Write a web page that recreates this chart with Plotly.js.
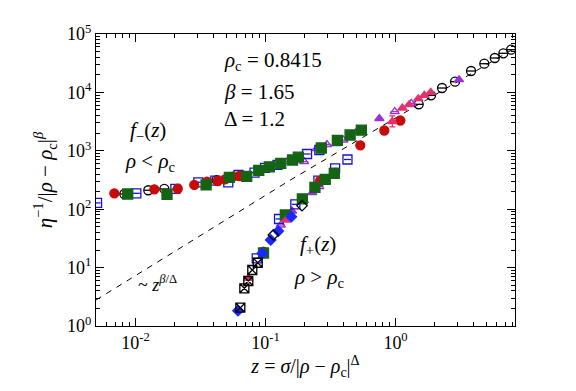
<!DOCTYPE html>
<html>
<head>
<meta charset="utf-8">
<script src="https://cdn.plot.ly/plotly-3.0.1.min.js"></script>
<style>html,body{margin:0;padding:0;background:#fff;}#plot{width:576px;height:391px;}
#plot svg text{font-family:'Liberation Serif','Times New Roman',serif !important;}</style>
</head>
<body>
<div id="plot"></div>
<script>
// ---- data (z, eta^-1/|rho-rho_c|^beta) ----
const redZ   = [0.00687, 0.01396, 0.02113, 0.0283, 0.0355, 0.0429, 0.0488, 0.0560, 0.0629, 0.263, 0.0962, 0.536, 0.820, 1.089];
const redY   = [187, 219, 224, 260, 296, 304, 325, 360, 370, 308, 18.7, 1242, 2227, 3300];

const greenZ = [0.00871, 0.01747, 0.0349, 0.0527, 0.0717, 0.0887, 0.107, 0.131, 0.1614, 0.1788, 0.2687, 0.357, 0.447, 0.546, 0.338, 0.288, 0.240, 0.192, 0.142, 0.0965];
const greenY = [182, 180, 260, 352, 366, 464, 532, 611, 696, 777, 1117, 1513, 1865, 2253, 412, 325, 237, 150, 79.6, 17.8];

const blueSqZ = [0.00506, 0.01014, 0.02024, 0.0304, 0.0411, 0.0517, 0.0620, 0.0823, 0.0991, 0.1237, 0.2086, 0.2594, 0.427, 0.343, 0.255, 0.1695, 0.127, 0.0856];
const blueSqY = [128, 187, 222, 289, 308, 289, 385, 422, 512, 576, 881, 1032, 710, 501, 308, 121, 68, 14.4];

const blackCircZ = [0.00820, 0.01254, 0.01666, 0.042, 1.508, 1.875, 2.279, 2.869, 3.81, 4.82, 5.80, 6.75, 7.74];
const blackCircY = [182, 211, 222, 315, 6250, 8920, 11890, 15250, 23250, 31000, 38800, 46700, 53800];

const purpleOpenZ = [0.147, 0.198, 0.248, 0.297, 0.351, 0.397, 0.452, 0.499, 0.986, 1.323, 0.259, 0.197, 0.131];
const purpleOpenY = [656, 651, 1086, 1282, 1323, 1531, 1743, 2099, 4674, 6505, 243, 140, 53.6];

const purpleFillZ = [0.751, 3.08, 0.229, 0.160];
const purpleFillY = [3573, 16500, 192, 93];

const pinkZ = [0.945, 1.128, 1.27, 1.497, 1.665, 1.865, 0.144, 0.0738];
const pinkY = [3175, 5407, 6155, 7800, 8920, 10040, 65.3, 6.55];
const pinkErrPlus  = [800, 0, 0, 0, 0, 0, 0, 0];
const pinkErrMinus = [600, 0, 0, 0, 0, 0, 0, 0];

const blueDiaZ = [0.158, 0.1254, 0.1096, 0.0945, 0.0614];
const blueDiaY = [74.4, 42.3, 29.7, 17.6, 1.83];

const blackDiaZ = [0.191, 0.1148];
const blackDiaY = [115, 36.2];

const blackSqxZ = [0.0871, 0.0791, 0.0737, 0.0687, 0.0640];
const blackSqxY = [12.1, 9.1, 5.9, 4.42, 2.06];

// dashed guide ~ z^(beta/Delta)
const dashZ = [0.00497, 0.152, 1.51, 8.3];
const dashY = [2.79, 307, 6250, 57500];

// tick labels
const xTickVals = [0.01, 0.1, 1];
const xTickText = ['10<sup>-2</sup>', '10<sup>-1</sup>', '10<sup>0</sup>'];
const yTickVals = [1, 10, 100, 1000, 10000, 100000];
const yTickText = ['10<sup>0</sup>', '10<sup>1</sup>', '10<sup>2</sup>', '10<sup>3</sup>', '10<sup>4</sup>', '10<sup>5</sup>'];

// ---- minor tick positions (2..9 per decade) ----
function minors(lo, hi) {
  const out = [];
  for (let p = lo; p <= hi; p++) for (let m = 2; m <= 9; m++) out.push(m * Math.pow(10, p));
  return out;
}

const RED = '#c80a0a', GREEN = '#146414', BLUE = '#1414d2', PURPLE = '#9b30d9', PINK = '#e6306e', BDIA = '#1a28ff';

function sc(x, y, symbol, color, size, extra) {
  return Object.assign({
    type: 'scatter', mode: 'markers', x: x, y: y, showlegend: false, hoverinfo: 'skip',
    marker: { symbol: symbol, color: color, size: size, line: { color: color, width: 1.3 } }
  }, extra || {});
}

const traces = [
  { type: 'scatter', mode: 'lines', x: dashZ, y: dashY, showlegend: false, hoverinfo: 'skip',
    line: { color: 'black', width: 1, dash: '6px,6px' } },
  sc(blackCircZ, blackCircY, 'circle-open', 'black', 9),
  sc(blackCircZ, blackCircY, 'line-ew-open', 'black', 6),
  sc(purpleOpenZ, purpleOpenY, 'triangle-up-open', PURPLE, 8),
  sc(purpleOpenZ, purpleOpenY, 'line-ew-open', PURPLE, 6),
  sc(purpleFillZ, purpleFillY, 'triangle-up', PURPLE, 8),
  sc(blueSqZ, blueSqY, 'square-open', BLUE, 9),
  sc(blueSqZ, blueSqY, 'line-ew-open', BLUE, 5),
  sc(redZ, redY, 'circle', RED, 9),
  sc(greenZ, greenY, 'square', GREEN, 10),
  sc(pinkZ, pinkY, 'triangle-up', PINK, 8, {
    error_y: { type: 'data', symmetric: false, array: pinkErrPlus, arrayminus: pinkErrMinus, color: PINK, thickness: 1.3, width: 3 }
  }),
  sc(blueDiaZ, blueDiaY, 'diamond', BDIA, 8),
  sc(blackDiaZ, blackDiaY, 'diamond-open', 'black', 8),
  sc(blackSqxZ, blackSqxY, 'square-x-open', 'black', 9)
];

const FONT = 'Liberation Serif';

const axisCommon = {
  type: 'log', showgrid: false, zeroline: false, showline: true, linecolor: 'black', linewidth: 1,
  mirror: 'ticks', ticks: 'inside', ticklen: 8, tickwidth: 1, tickcolor: 'black',
  tickmode: 'array', tickfont: { family: FONT, size: 18, color: 'black' }
};

const layout = {
  width: 576, height: 391,
  margin: { l: 96, r: 61, t: 34, b: 65 },
  paper_bgcolor: 'white', plot_bgcolor: 'white',
  font: { family: FONT, size: 18, color: 'black' },
  xaxis: Object.assign({}, axisCommon, {
    range: [-2.304, 0.919], tickvals: xTickVals, ticktext: xTickText,
    minor: { tickmode: 'array', tickvals: minors(-3, 0), ticks: 'inside', ticklen: 4, tickcolor: 'black', tickwidth: 1 },
    title: { text: '<i>z</i> = <i>σ</i>/|<i>ρ</i> − <i>ρ</i><sub>c</sub>|<sup>Δ</sup>', font: { family: FONT, size: 20, color: 'black' }, standoff: 4 }
  }),
  yaxis: Object.assign({}, axisCommon, {
    range: [0, 5], tickvals: yTickVals, ticktext: yTickText,
    minor: { tickmode: 'array', tickvals: minors(0, 4), ticks: 'inside', ticklen: 4, tickcolor: 'black', tickwidth: 1 },
    title: { text: '<i>η</i><sup>−1</sup>/|<i>ρ</i> − <i>ρ</i><sub>c</sub>|<sup><i>β</i></sup>', font: { family: FONT, size: 21, color: 'black' }, standoff: 8 }
  }),
  annotations: [
    { text: '<i>ρ</i><sub>c</sub> = 0.8415', x: 0.301, y: 0.909 },
    { text: '<i>β</i> = 1.65', x: 0.301, y: 0.800 },
    { text: 'Δ = 1.2', x: 0.301, y: 0.709 },
    { text: '<i>f</i><sub>−</sub>(<i>z</i>)', x: 0.076, y: 0.669 },
    { text: '<i>ρ</i> &lt; <i>ρ</i><sub>c</sub>', x: 0.064, y: 0.562 },
    { text: '<i>f</i><sub>+</sub>(<i>z</i>)', x: 0.482, y: 0.277 },
    { text: '<i>ρ</i> &gt; <i>ρ</i><sub>c</sub>', x: 0.468, y: 0.164 },
    { text: '~ <i>z</i><sup><i>β</i>/Δ</sup>', x: 0.095, y: 0.147, size: 18 }
  ].map(a => ({
    text: a.text, x: a.x, y: a.y, xref: 'paper', yref: 'paper', xanchor: 'left', yanchor: 'middle',
    showarrow: false, font: { family: FONT, size: a.size || 21, color: 'black' }
  }))
};

Plotly.newPlot('plot', traces, layout, { displayModeBar: false, staticPlot: true });
</script>
</body>
</html>
